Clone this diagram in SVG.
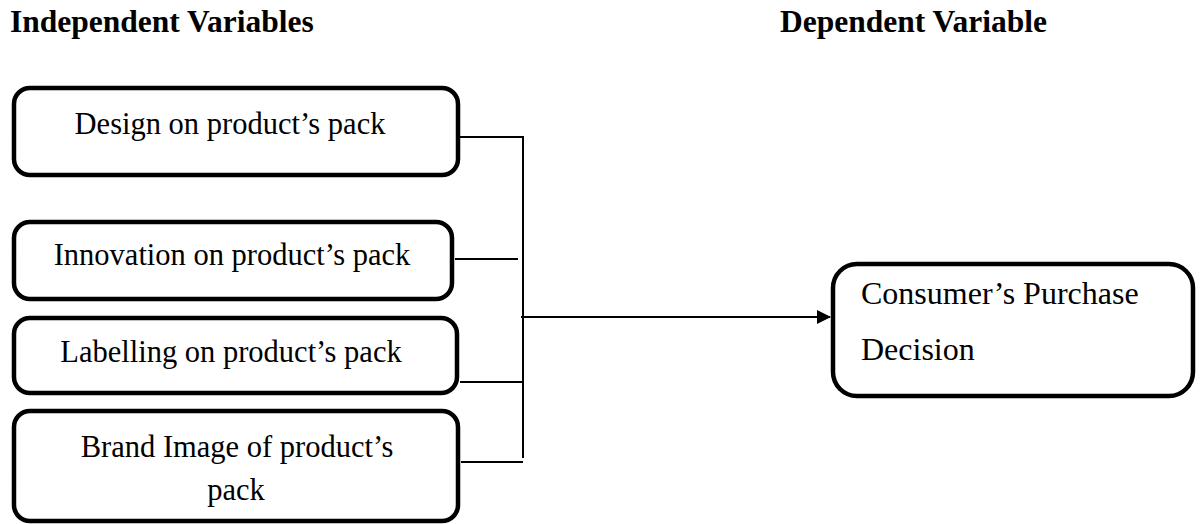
<svg xmlns="http://www.w3.org/2000/svg" width="1202" height="524" viewBox="0 0 1202 524">
<style>
.box{fill:#fff;stroke:#000;stroke-width:4.5}
.t{font-family:"Liberation Serif","Times New Roman",serif;font-size:30.5px;fill:#000}
.t2{font-family:"Liberation Serif","Times New Roman",serif;font-size:32px;fill:#000}
.h{font-family:"Liberation Serif","Times New Roman",serif;font-size:31.5px;font-weight:bold;fill:#000}
.c{stroke:#000;stroke-width:2;fill:none}
</style>
<defs>
<marker id="arr" markerWidth="14" markerHeight="14" refX="13" refY="7" orient="auto" markerUnits="userSpaceOnUse"><path d="M0,0 L14,7 L0,14 z" fill="#000"/></marker>
</defs>
<text class="h" x="10" y="32">Independent Variables</text>
<text class="h" x="780" y="32">Dependent Variable</text>
<g id="connectors">
<line class="c" x1="460" y1="137" x2="523" y2="137"/>
<line class="c" x1="455" y1="259" x2="518" y2="259"/>
<line class="c" x1="460" y1="382" x2="523" y2="382"/>
<line class="c" x1="461" y1="462" x2="523" y2="462"/>
<line class="c" x1="523" y1="136" x2="523" y2="458"/>
<line class="c" x1="521" y1="317" x2="830" y2="317" marker-end="url(#arr)"/>
</g>
<g id="n1"><rect class="box" x="14" y="88" width="444" height="87" rx="16"/><text class="t" x="230" y="134" text-anchor="middle">Design on product’s pack</text></g>
<g id="n2"><rect class="box" x="14" y="222" width="438" height="77" rx="16"/><text class="t" x="232" y="265" text-anchor="middle">Innovation on product’s pack</text></g>
<g id="n3"><rect class="box" x="14" y="318" width="443" height="75" rx="16"/><text class="t" x="231" y="362" text-anchor="middle">Labelling on product’s pack</text></g>
<g id="n4"><rect class="box" x="14" y="411" width="444" height="110" rx="16"/><text class="t" x="237" y="457" text-anchor="middle">Brand Image of product’s</text><text class="t" x="236" y="500" text-anchor="middle">pack</text></g>
<g id="n5"><rect class="box" x="833" y="264" width="360" height="132" rx="24"/><text class="t2" x="861" y="304">Consumer’s Purchase</text><text class="t2" x="861" y="360">Decision</text></g>
</svg>
